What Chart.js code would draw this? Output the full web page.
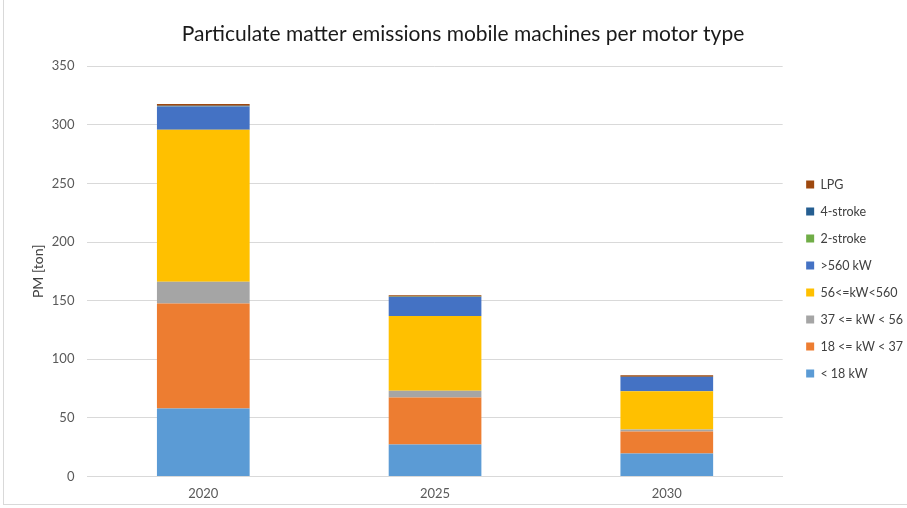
<!DOCTYPE html>
<html>
<head>
<meta charset="utf-8">
<script src="https://cdn.jsdelivr.net/npm/chart.js@4/dist/chart.umd.min.js"></script>
<style>
  html, body { margin: 0; padding: 0; background: #fff; }
  #wrap { position: absolute; left: 3px; top: 0; width: 904px; height: 505px;
          border-left: 1px solid #d9d9d9; border-bottom: 1px solid #d9d9d9; box-sizing: border-box; }
</style>
</head>
<body>
<div id="wrap"><canvas id="chart"></canvas></div>
<script>
// categories (years)
const years = ['2020', '2025', '2030'];

// series values, PM in ton
const lt18 = [58.0, 27.3, 19.6];
const kw18to37 = [89.5, 40.1, 18.8];
const kw37to56 = [18.5, 5.7, 1.7];
const kw56to560 = [129.7, 63.7, 32.5];
const gt560 = [20.0, 16.3, 12.2];
const twoStroke = [0.2, 0.1, 0.1];
const fourStroke = [0.3, 0.2, 0.2];
const lpg = [1.5, 1.2, 1.3];

const yTicks = [0, 50, 100, 150, 200, 250, 300, 350];

const series = [
  {label: '< 18 kW', data: lt18, color: '#5B9BD5'},
  {label: '18 <= kW < 37', data: kw18to37, color: '#ED7D31'},
  {label: '37 <= kW < 56', data: kw37to56, color: '#A5A5A5'},
  {label: '56<=kW<560', data: kw56to560, color: '#FFC000'},
  {label: '>560 kW', data: gt560, color: '#4472C4'},
  {label: '2-stroke', data: twoStroke, color: '#70AD47'},
  {label: '4-stroke', data: fourStroke, color: '#255E91'},
  {label: 'LPG', data: lpg, color: '#9E480E'}
];

const font = "Lato, 'Open Sans', sans-serif";

// Excel keeps the legend a bit further from the plot than Chart.js does
const legendNudge = {
  id: 'legendNudge',
  afterLayout(chart) {
    const lg = chart.legend;
    const dx = chart.chartArea.right + 9 - lg.left;
    const dy = 16;
    lg.left += dx; lg.right += dx;
    lg.top += dy; lg.bottom += dy;
  }
};

new Chart(document.getElementById('chart'), {
  type: 'bar',
  data: {
    labels: years,
    datasets: series.map(s => ({
      label: s.label,
      data: s.data,
      backgroundColor: s.color,
      borderWidth: 0,
      barPercentage: 0.4,
      categoryPercentage: 1
    }))
  },
  plugins: [legendNudge],
  options: {
    responsive: true,
    maintainAspectRatio: false,
    animation: false,
    layout: {padding: {left: 18, right: 3, top: 22, bottom: 0}},
    plugins: {
      title: {
        display: true,
        text: 'Particulate matter emissions mobile machines per motor type',
        color: '#1a1a1a',
        font: {family: font, size: 21, weight: 'normal'},
        padding: {top: 0, bottom: 19}
      },
      legend: {
        position: 'right',
        reverse: true,
        labels: {
          boxWidth: 8,
          boxHeight: 8,
          padding: 14.5,
          color: '#404040',
          font: {family: font, size: 12.5}
        }
      },
      tooltip: {enabled: false}
    },
    scales: {
      x: {
        stacked: true,
        grid: {display: false},
        border: {color: '#d9d9d9'},
        ticks: {color: '#595959', font: {family: font, size: 13}, padding: 2}
      },
      y: {
        stacked: true,
        min: 0,
        max: 350,
        afterBuildTicks: axis => { axis.ticks = yTicks.map(v => ({value: v})); },
        grid: {color: '#d9d9d9', drawTicks: false},
        border: {display: false},
        ticks: {color: '#595959', font: {family: font, size: 13}, padding: 13},
        title: {
          display: true,
          text: 'PM [ton]',
          color: '#404040',
          font: {family: font, size: 14},
          padding: {top: 8, bottom: -8}
        }
      }
    }
  }
});
</script>
</body>
</html>
